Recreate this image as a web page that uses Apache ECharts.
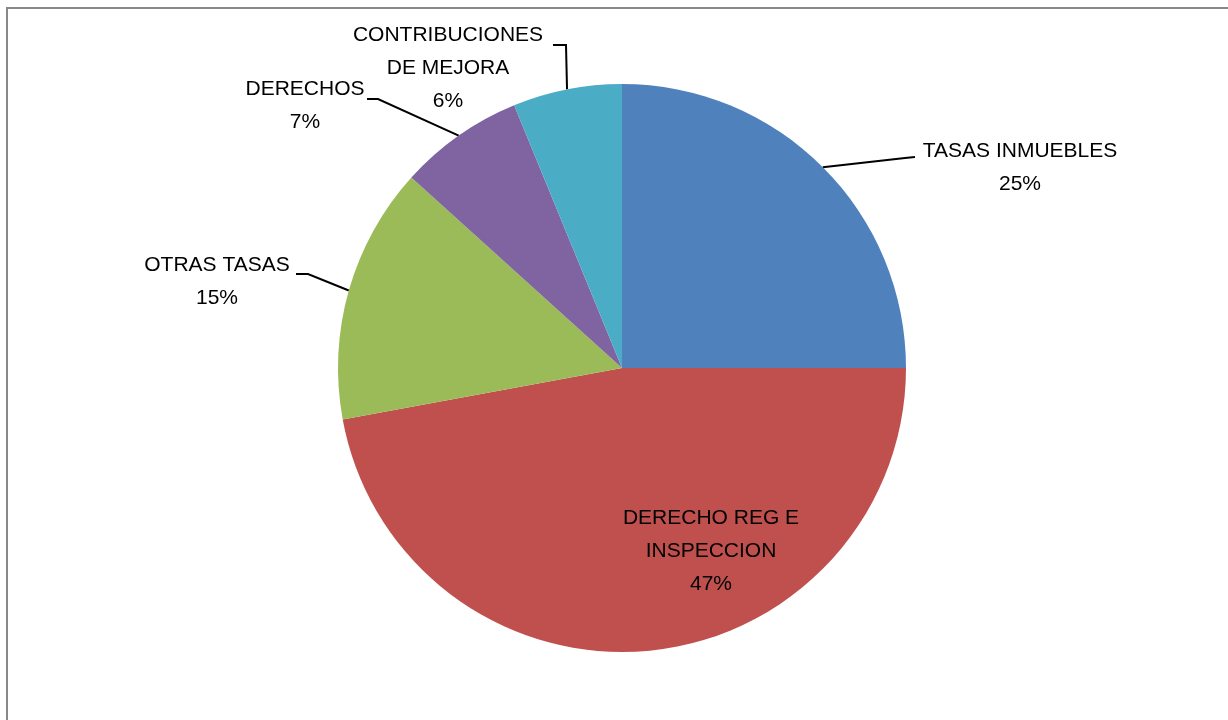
<!DOCTYPE html>
<html>
<head>
<meta charset="utf-8">
<script src="https://cdn.jsdelivr.net/npm/echarts@6/dist/echarts.min.js"></script>
<style>
html,body{margin:0;padding:0;background:#fff;}
#chart{width:1228px;height:720px;}
</style>
</head>
<body>
<div id="chart"></div>
<script>
const categories = ['TASAS INMUEBLES', 'DERECHO REG E\nINSPECCION', 'OTRAS TASAS', 'DERECHOS', 'CONTRIBUCIONES\nDE MEJORA'];
const values = [25.0, 47.1, 14.6, 7.1, 6.2];
const colors = ['#4F81BD', '#C0504D', '#9BBB59', '#8064A2', '#4BACC6'];

// label placement (layout only): label block centre, leader-line bend and end
const labelSpots = [
  {x: 1020, y: 168, bend: [905, 158], end: [915, 157]},
  {x: 711, y: 551, bend: null, end: null},
  {x: 217, y: 282, bend: [308, 274], end: [296, 274]},
  {x: 305, y: 106, bend: [378, 99], end: [367, 99]},
  {x: 448, y: 68, bend: [566, 45], end: [553, 45]}
];

const chart = echarts.init(document.getElementById('chart'), null, {renderer: 'canvas'});
const FONT = "'Liberation Sans', Arial, sans-serif";

chart.setOption({
  animation: false,
  backgroundColor: '#fff',
  graphic: [{
    type: 'rect',
    shape: {x: 7, y: 8, width: 1400, height: 900},
    style: {fill: 'none', stroke: '#888888', lineWidth: 2},
    silent: true
  }],
  series: [{
    type: 'pie',
    center: [622, 368],
    radius: 284,
    startAngle: 90,
    clockwise: true,
    percentPrecision: 0,
    avoidLabelOverlap: false,
    itemStyle: {borderWidth: 0},
    label: {
      show: true,
      position: 'outside',
      formatter: '{b}\n{d}%',
      fontFamily: FONT,
      fontSize: 21,
      lineHeight: 33,
      color: '#000',
      align: 'center'
    },
    labelLine: {
      show: true,
      length: 20,
      length2: 10,
      lineStyle: {color: '#000', width: 2}
    },
    labelLayout: function (p) {
      const s = labelSpots[p.dataIndex];
      const out = {x: s.x, y: s.y, align: 'center', verticalAlign: 'middle'};
      if (s.bend && p.labelLinePoints) {
        out.labelLinePoints = [p.labelLinePoints[0], s.bend, s.end];
      }
      return out;
    },
    data: categories.map((name, i) => ({
      name: name,
      value: values[i],
      itemStyle: {color: colors[i]},
      labelLine: i === 1 ? {show: false} : undefined
    }))
  }]
});
</script>
</body>
</html>
